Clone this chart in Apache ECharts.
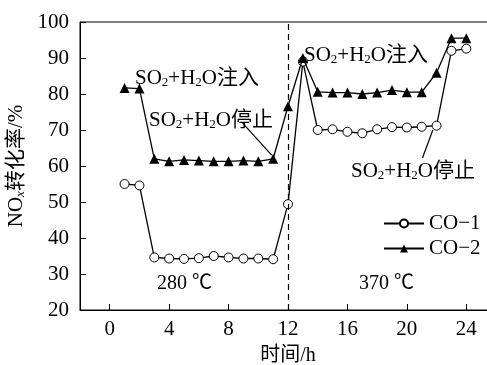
<!DOCTYPE html>
<html>
<head>
<meta charset="utf-8">
<script src="https://cdn.jsdelivr.net/npm/echarts@6/dist/echarts.min.js"></script>
<style>
  html, body { margin: 0; padding: 0; background: #fff; }
  #chart { width: 487px; height: 365px; }
</style>
</head>
<body>
<div id="chart"></div>
<script>
const hours = [1, 2, 3, 4, 5, 6, 7, 8, 9, 10, 11, 12, 13, 14, 15, 16, 17, 18, 19, 20, 21, 22, 23, 24]
const co1 = [55, 54.6, 34.6, 34.3, 34.2, 34.4, 35, 34.6, 34.3, 34.3, 34.1, 49.4, 89, 70, 70.2, 69.5, 69.1, 70.2, 70.8, 70.7, 70.9, 71.2, 92, 92.6]
const co2 = [81.7, 81.5, 62, 61.3, 61.7, 61.5, 61.3, 61.3, 61.5, 61.3, 62, 76.6, 90, 80.6, 80.4, 80.4, 80, 80.4, 81.1, 80.5, 80.5, 85.9, 95.5, 95.5]
const xTicks = [0, 4, 8, 12, 16, 20, 24]

const serif = 'Liberation Serif, Noto Sans CJK SC'
const black = '#000'

// 下标用的 rich 样式
const rich = {
  n: { fontFamily: serif, fontSize: 21, lineHeight: 32, verticalAlign: 'bottom', color: black },
  s: { fontFamily: serif, fontSize: 13, lineHeight: 12, verticalAlign: 'bottom', color: black },
}
const so2h2o = (tail) => '{n|SO}{s|2}{n|+H}{s|2}{n|O' + tail + '}'

function note(text, x, y, align) {
  return {
    type: 'text',
    x: x,
    y: y,
    style: {
      text: text,
      rich: rich,
      align: align || 'left',
      verticalAlign: 'middle',
    },
  }
}

const chart = echarts.init(document.getElementById('chart'))

chart.setOption({
  animation: false,
  grid: {
    left: 80,
    top: 22,
    bottom: 55,
    right: -9,
    containLabel: false,
    outerBoundsMode: 'none',
    show: true,
    borderColor: black,
    borderWidth: 1,
  },
  legend: {
    orient: 'vertical',
    left: 378,
    top: 208,
    itemWidth: 40,
    itemHeight: 10,
    itemGap: 4,
    textStyle: { fontFamily: serif, fontSize: 21, color: black },
    data: ['CO−1', 'CO−2'],
  },
  xAxis: {
    type: 'value',
    min: -2,
    max: 26,
    name: '时间/h',
    nameLocation: 'middle',
    nameGap: 36,
    nameTextStyle: { fontFamily: serif, fontSize: 20, color: black },
    splitLine: { show: false },
    axisLine: { onZero: false, lineStyle: { color: black, width: 1 } },
    axisTick: { inside: true, length: 6, customValues: xTicks, lineStyle: { color: black } },
    axisLabel: {
      customValues: xTicks,
      margin: 9,
      fontFamily: serif,
      fontSize: 21,
      color: black,
    },
  },
  yAxis: {
    type: 'value',
    min: 20,
    max: 100,
    interval: 10,
    name: '{n|NO}{x|x}{n|转化率/%}',
    nameLocation: 'middle',
    nameGap: 43,
    nameTextStyle: {
      rich: {
        n: { fontFamily: serif, fontSize: 21, lineHeight: 32, verticalAlign: 'bottom', color: black },
        x: { fontFamily: serif, fontSize: 13, fontStyle: 'italic', lineHeight: 12, verticalAlign: 'bottom', color: black },
      },
    },
    splitLine: { show: false },
    axisLine: { show: true, onZero: false, lineStyle: { color: black, width: 1 } },
    axisTick: { show: true, inside: true, length: 6, lineStyle: { color: black } },
    axisLabel: { margin: 11, fontFamily: serif, fontSize: 21, color: black },
  },
  series: [
    {
      name: 'CO−1',
      type: 'line',
      data: hours.map((h, i) => [h, co1[i]]),
      symbol: 'circle',
      symbolSize: 9,
      lineStyle: { color: black, width: 1.3 },
      itemStyle: { color: '#fff', borderColor: black, borderWidth: 1 },
      markLine: {
        silent: true,
        symbol: 'none',
        label: { show: false },
        lineStyle: { color: black, width: 1.2, type: 'solid' },
        data: [
          [{ coord: [21.05, 62.2] }, { coord: [21.75, 70] }],
        ],
      },
      z: 3,
    },
    {
      name: 'CO−2',
      type: 'line',
      data: hours.map((h, i) => [h, co2[i]]),
      symbol: 'triangle',
      symbolSize: 10,
      lineStyle: { color: black, width: 1.3 },
      itemStyle: { color: black },
      markLine: {
        silent: true,
        symbol: 'none',
        label: { show: false },
        data: [
          [
            { coord: [8.95, 71.9], lineStyle: { color: black, width: 1.2, type: 'solid' } },
            { coord: [10.9, 63] },
          ],
          {
            xAxis: 12,
            lineStyle: { color: black, width: 1.2, type: [6, 4] },
          },
        ],
      },
      z: 4,
    },
  ],
  graphic: [
    note(so2h2o('注入'), 135, 73),
    note(so2h2o('停止'), 149, 115),
    note(so2h2o('注入'), 304, 50),
    note(so2h2o('停止'), 351, 166),
    {
      type: 'text',
      x: 157,
      y: 284,
      style: { text: '280 ℃', font: '20px ' + serif, fill: black, verticalAlign: 'middle' },
    },
    {
      type: 'text',
      x: 359,
      y: 284,
      style: { text: '370 ℃', font: '20px ' + serif, fill: black, verticalAlign: 'middle' },
    },
  ],
})
</script>
</body>
</html>
